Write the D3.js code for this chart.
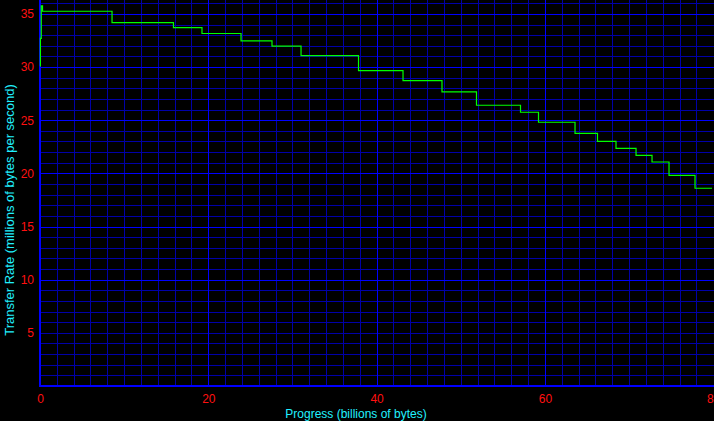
<!DOCTYPE html>
<html>
<head>
<meta charset="utf-8">
<script src="https://cdn.jsdelivr.net/npm/d3@7"></script>
<style>
html,body{margin:0;padding:0;background:#000;}
svg{display:block;}
</style>
</head>
<body>
<svg id="chart" width="714" height="421"></svg>
<script>
// Data: step start positions (billions of bytes) and transfer rate (MB/s)
const progress = [0, 0.05, 0.15, 0.3, 8.56, 15.86, 19.25, 23.89, 27.57, 31.02, 37.85, 43.14, 47.77, 51.87, 57.1, 59.24, 63.58, 66.25, 68.45, 70.83, 72.73, 74.75, 77.84, 79.86];
const rate =     [30.1, 32.7, 35.75, 35.25, 34.18, 33.71, 33.16, 32.46, 31.98, 31.07, 29.66, 28.72, 27.66, 26.41, 25.75, 24.81, 23.77, 23.02, 22.36, 21.70, 21.07, 19.82, 18.60, 18.60];
const xTicks = [0, 20, 40, 60, 80];
const yTicks = [5, 10, 15, 20, 25, 30, 35];
const xTitle = "Progress (billions of bytes)";
const yTitle = "Transfer Rate (millions of bytes per second)";

const svg = d3.select("#chart");
const W = 714, H = 421;
const mLeft = 40, mBottom = 386, mRight = 713.2, mTop = 0;
const x = d3.scaleLinear().domain([0, 80]).range([mLeft, mRight]);
const y = d3.scaleLinear().domain([0, 36.31]).range([mBottom, mTop]);

svg.append("rect").attr("width", W).attr("height", H).attr("fill", "#000");

const grid = svg.append("g").attr("shape-rendering", "crispEdges");
const minorCol = "#0000a8", majorCol = "#0000ff";
// minor vertical grid every 2
grid.selectAll("line.vx").data(d3.range(2, 81, 2).filter(d => d % 20 !== 0))
  .join("line").attr("class", "vx")
  .attr("x1", d => Math.round(x(d)) + 0.5).attr("x2", d => Math.round(x(d)) + 0.5)
  .attr("y1", 0).attr("y2", mBottom)
  .attr("stroke", minorCol).attr("stroke-width", 1);
// minor horizontal grid every 1
grid.selectAll("line.hy").data(d3.range(1, 37, 1).filter(d => d % 5 !== 0 || d === 5))
  .join("line").attr("class", "hy")
  .attr("y1", d => Math.round(y(d)) + 0.5).attr("y2", d => Math.round(y(d)) + 0.5)
  .attr("x1", mLeft).attr("x2", W)
  .attr("stroke", minorCol).attr("stroke-width", 1);
// major vertical
grid.selectAll("line.mx").data([20, 40, 60])
  .join("line").attr("class", "mx")
  .attr("x1", d => Math.round(x(d)) + 0.5).attr("x2", d => Math.round(x(d)) + 0.5)
  .attr("y1", 0).attr("y2", mBottom)
  .attr("stroke", majorCol).attr("stroke-width", 1.5);
// major horizontal
grid.selectAll("line.my").data([10, 15, 20, 25, 30, 35])
  .join("line").attr("class", "my")
  .attr("y1", d => Math.round(y(d)) + 0.5).attr("y2", d => Math.round(y(d)) + 0.5)
  .attr("x1", mLeft).attr("x2", W)
  .attr("stroke", majorCol).attr("stroke-width", 1.5);
// axes lines
grid.append("line").attr("x1", mLeft).attr("x2", mLeft).attr("y1", 0).attr("y2", mBottom + 1)
  .attr("stroke", majorCol).attr("stroke-width", 2);
grid.append("line").attr("x1", mLeft).attr("x2", W).attr("y1", mBottom).attr("y2", mBottom)
  .attr("stroke", majorCol).attr("stroke-width", 2);

// tick labels through axes
const xAxis = svg.append("g").attr("transform", `translate(0,${mBottom})`)
  .call(d3.axisBottom(x).tickValues(xTicks).tickSize(0).tickPadding(8).tickFormat(d3.format("d")));
const yAxis = svg.append("g").attr("transform", `translate(${mLeft},0)`)
  .call(d3.axisLeft(y).tickValues(yTicks).tickSize(0).tickPadding(6).tickFormat(d3.format("d")));
[xAxis, yAxis].forEach(a => {
  a.select(".domain").remove();
  a.selectAll("text").attr("fill", "#ff1010")
    .style("font-family", "'Liberation Sans', Arial, sans-serif").style("font-size", "12px");
});

// line
const pts = progress.map((p, i) => [p, rate[i]]);
svg.append("path").datum(pts)
  .attr("fill", "none").attr("stroke", "#00ff00").attr("stroke-width", 1.2)
  .attr("d", d3.line().x(d => x(d[0])).y(d => y(d[1])).curve(d3.curveStepAfter));

// titles
svg.append("text").attr("x", 356).attr("y", 418).attr("text-anchor", "middle")
  .attr("fill", "#20f0ff").style("font-family", "'Liberation Sans', Arial, sans-serif").style("font-size", "12px")
  .text(xTitle);
svg.append("text").attr("transform", "translate(14,210) rotate(-90)").attr("text-anchor", "middle")
  .attr("fill", "#20f0ff").style("font-family", "'Liberation Sans', Arial, sans-serif").style("font-size", "13px")
  .text(yTitle);
</script>
</body>
</html>
